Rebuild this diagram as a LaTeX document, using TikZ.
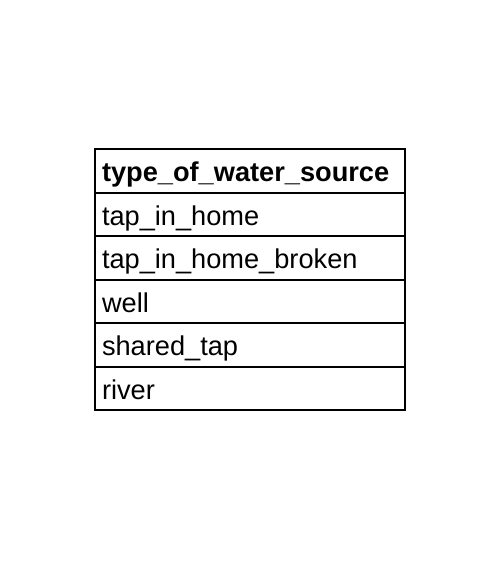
\documentclass[tikz,border=0pt]{standalone}
\usepackage{fontspec}
\setmainfont{Liberation Sans}
\usetikzlibrary{positioning}
\tikzstyle{cell} = [rectangle, draw=black, line width=1.8pt, text width=296pt, minimum height=43.5pt, inner xsep=7pt, inner ysep=0pt, outer sep=0pt, text height=21.8pt, text depth=0pt, align=left, font=\fontsize{27.2}{30}\selectfont]
\tikzstyle{head} = [cell, font=\fontsize{27.2}{30}\selectfont\bfseries]

\begin{document}
\begin{tikzpicture}[x=1pt, y=1pt, node distance=0pt]
		\useasboundingbox (0,0) rectangle (480,-586);
		\node (Header) [head, anchor=north west] at (95,-149.3) {type\_of\_water\_source};
		\node (TapInHome) [cell, below = of Header] {tap\_in\_home};
		\node (TapBroken) [cell, below = of TapInHome] {tap\_in\_home\_broken};
		\node (Well) [cell, below = of TapBroken] {well};
		\node (SharedTap) [cell, below = of Well] {shared\_tap};
		\node (River) [cell, below = of SharedTap] {river};
\end{tikzpicture}
\end{document}
